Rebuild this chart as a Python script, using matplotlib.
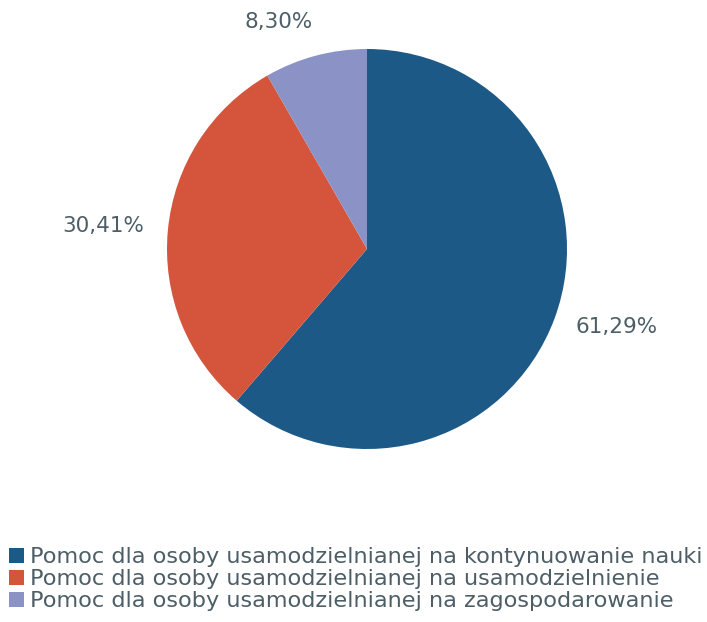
import matplotlib
matplotlib.use("Agg")
import matplotlib.pyplot as plt

categories = [
    "Pomoc dla osoby usamodzielnianej na kontynuowanie nauki",
    "Pomoc dla osoby usamodzielnianej na usamodzielnienie",
    "Pomoc dla osoby usamodzielnianej na zagospodarowanie",
]
values = [61.29, 30.41, 8.30]
labels = ["61,29%", "30,41%", "8,30%"]
colors = ["#1d5986", "#d4553b", "#8b93c6"]
label_pos = [(1.25, -0.39), (-1.32, 0.115), (-0.44, 1.135)]
text_color = "#4d5e66"

W, H = 707, 622
fig = plt.figure(figsize=(W / 100, H / 100), dpi=100)
fig.patch.set_facecolor("white")
ax = fig.add_axes([167 / W, 173 / H, 400 / W, 400 / H])
wedges, _ = ax.pie(values, colors=colors, startangle=90, counterclock=False,
                   radius=1.0, wedgeprops=dict(linewidth=0))
ax.set_xlim(-1, 1)
ax.set_ylim(-1, 1)
ax.set_aspect("equal")
ax.axis("off")

for lab, (x, y) in zip(labels, label_pos):
    ax.text(x, y, lab, ha="center", va="center", fontsize=15.5,
            color=text_color, clip_on=False)

leg = fig.legend(wedges, categories, loc="upper left",
                 bbox_to_anchor=(9 / W, 1 - 547 / H), frameon=False,
                 fontsize=16.1, handlelength=0.66, handleheight=0.66,
                 handletextpad=0.28, labelspacing=0.1, borderpad=0,
                 borderaxespad=0)
for t in leg.get_texts():
    t.set_color(text_color)

fig.savefig("out.png", dpi=100)
